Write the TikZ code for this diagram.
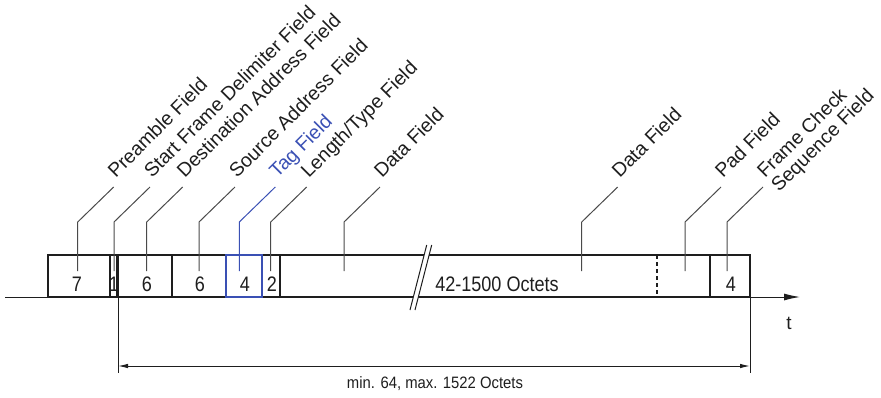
\documentclass[tikz,border=0pt]{standalone}
\usepackage{fontspec}
\setmainfont{Liberation Sans}
\newfontfamily\condfont[FakeStretch=0.9]{Liberation Sans}
\newfontfamily\boxfont[FakeStretch=0.86]{Liberation Sans}
\usetikzlibrary{arrows.meta,calc}
\definecolor{frameblack}{HTML}{1E1E1E}
\definecolor{leadergray}{HTML}{4A4A4A}
\definecolor{tagblue}{HTML}{3A50B4}
\newcommand\fieldleader[3]{%
  \coordinate (#1-b) at (#2,271);
  \coordinate (#1-k) at (#2,222);
  \coordinate (#1-e) at ($(#2,187)+(36,0)$);
  \draw[#3] (#1-b) -- (#1-k) -- (#1-e);
}
\begin{document}
\begin{tikzpicture}[x=1pt,y=-1pt,
  frameline/.style={line width=2.8pt, draw=frameblack},
  leader/.style={line width=1pt, draw=leadergray},
  taglead/.style={line width=1pt, draw=tagblue},
  fieldlabel/.style={font=\fontsize{19.5}{21}\selectfont, text=frameblack, inner sep=0pt, rotate=45, anchor=base west},
  octets/.style={font=\boxfont\fontsize{21}{24}\selectfont, text=frameblack, inner sep=0pt},
  thinline/.style={line width=1pt, draw=frameblack}]
\useasboundingbox (0,0) rectangle (881,397);

% frame
\draw[frameline] (48,255) rectangle (750,297);
\draw[frameline, line width=2pt] (110,255) -- (110,297);
\foreach \x in {117.5,172,280,710} \draw[frameline] (\x,255) -- (\x,297);
\draw[frameline, dash pattern=on 4pt off 3pt] (657,255) -- (657,297);
\draw[frameline, draw=tagblue] (226,255) rectangle (262,297);

% break mark
\fill[white] (426.7,245) -- (431.7,245) -- (415,310) -- (410,310) -- cycle;
\coordinate (brA1) at (426.7,245); \coordinate (brA2) at (410,310);
\coordinate (brB1) at (431.7,245); \coordinate (brB2) at (415,310);
\draw[thinline] (brA1) -- (brA2);
\draw[thinline] (brB1) -- (brB2);

% field contents
\node[octets] (n7) at (77,284) {7};
\node[octets] (n1) at (114,284) {1};
\node[octets] (n6a) at (147,284) {6};
\node[octets] (n6b) at (200,284) {6};
\node[octets] (n4a) at (245,284) {4};
\node[octets] (n2) at (272,284) {2};
\node[octets] (noct) at (497,284) {42-1500 Octets};
\node[octets] (n4b) at (731,284) {4};

% leaders
\fieldleader{pre}{77.7}{leader}
\fieldleader{sfd}{114}{leader}
\fieldleader{da}{146.7}{leader}
\fieldleader{sa}{199}{leader}
\fieldleader{tag}{239.3}{taglead}
\fieldleader{lt}{270.7}{leader}
\fieldleader{dfa}{344}{leader}
\fieldleader{dfb}{581.7}{leader}
\fieldleader{pad}{685}{leader}
\fieldleader{fcs}{727}{leader}

\node[fieldlabel] (lpre) at ($(pre-e)+(2,-8)$) {Preamble Field};
\node[fieldlabel] (lsfd) at ($(sfd-e)+(2,-8)$) {Start Frame Delimiter Field};
\node[fieldlabel] (lda) at ($(da-e)+(2,-8)$) {Destination Address Field};
\node[fieldlabel] (lsa) at ($(sa-e)+(2,-8)$) {Source Address Field};
\node[fieldlabel, text=tagblue] (ltag) at ($(tag-e)+(2,-8)$) {Tag Field};
\node[fieldlabel] (llt) at ($(lt-e)+(2,-8)$) {Length/Type Field};
\node[fieldlabel] (ldfa) at ($(dfa-e)+(2,-8)$) {Data Field};
\node[fieldlabel] (ldfb) at ($(dfb-e)+(2,-8)$) {Data Field};
\node[fieldlabel] (lpad) at ($(pad-e)+(2,-8)$) {Pad Field};
\node[fieldlabel] (lfcsa) at ($(fcs-e)+(2,-8)$) {Frame Check};
\node[fieldlabel] (lfcsb) at ($(fcs-e)+(16,6)$) {Sequence Field};

% time axis
\coordinate (tlstart) at (5,297);
\coordinate (tlleft) at (48,297);
\coordinate (tlright) at (750,297);
\coordinate (tlend) at (800,297);
\draw[thinline] (tlstart) -- (tlleft);
\draw[thinline, -{Latex[length=16pt,width=7pt]}] (tlright) -- (tlend);
\node[font=\fontsize{19}{21}\selectfont, text=frameblack] (tlabel) at (789,323) {t};

% dimension
\coordinate (extLa) at (118,297); \coordinate (extLb) at (118,373);
\coordinate (extRa) at (750,297); \coordinate (extRb) at (750,373);
\draw[thinline] (extLa) -- (extLb);
\draw[thinline] (extRa) -- (extRb);
\coordinate (dimL) at (118,366); \coordinate (dimR) at (750,366);
\draw[thinline, {Latex[length=10pt,width=4.5pt]}-{Latex[length=10pt,width=4.5pt]}] (dimL) -- (dimR);
\node[font=\condfont\fontsize{16.5}{19}\selectfont, text=frameblack] (dimtext) at (435,384) {min. 64, max. 1522 Octets};
\end{tikzpicture}
\end{document}
